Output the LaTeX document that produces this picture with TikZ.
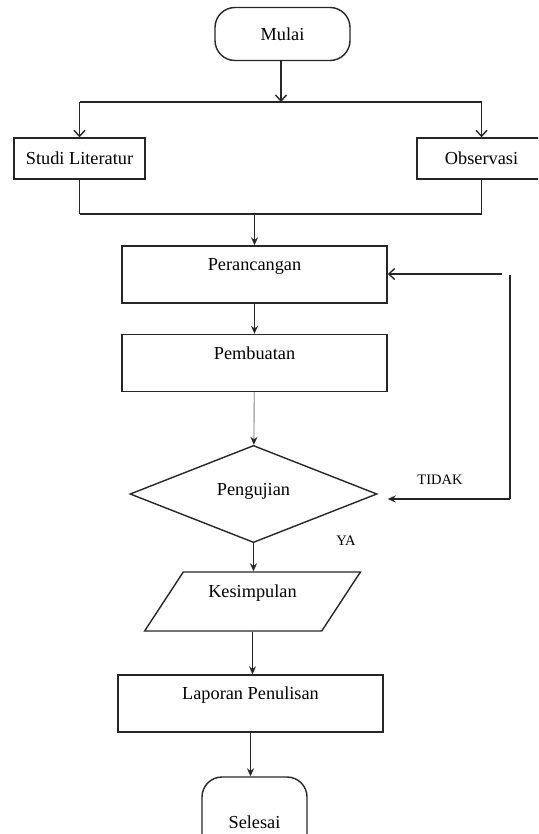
\documentclass[tikz,border=0pt]{standalone}
\usepackage{fontspec}
\setmainfont{Liberation Serif}
\usetikzlibrary{shapes.geometric,arrows.meta}

\tikzset{
	garis/.style={line width=1.4pt,draw=black!85},
	kotak/.style={garis,rectangle,inner sep=0pt,font=\fontsize{18.3}{21}\selectfont},
	proses/.style={kotak,minimum width=265pt,minimum height=57pt,text height=13pt,text depth=21pt},
	terminal/.style={kotak,rounded corners=20pt},
	keputusan/.style={kotak,diamond,minimum width=247pt,minimum height=92pt,text height=13pt,text depth=11pt},
	data/.style={kotak,trapezium,trapezium left angle=54,trapezium right angle=126,trapezium stretches=true,minimum width=216pt,minimum height=59pt,text height=13pt,text depth=21pt},
	keterangan/.style={inner sep=0pt,font=\fontsize{14.5}{16}\selectfont},
	panah/.style={garis,-{Stealth[length=8pt,width=7pt]}},
	panahabu/.style={garis,draw=black!30,-{Stealth[length=8pt,width=7pt,color=black!85]}},
	panahbuka/.style={garis,-{Straight Barb[length=6pt,width=11pt]}}
}

\begin{document}
\begin{tikzpicture}[x=1pt,y=-1pt]
	\clip (0,0) rectangle (538,834);
	
	\node[terminal,minimum width=135pt,minimum height=53pt] (mulai) at (282.5,34) {Mulai};
	\node[kotak,minimum width=131pt,minimum height=41pt] (studi) at (79.5,158.5) {Studi Literatur};
	\node[kotak,minimum width=129pt,minimum height=41pt] (obs) at (481.5,158.5) {Observasi};
	\node[proses] (rancang) at (254.5,274.5) {Perancangan};
	\node[proses] (buat) at (254.5,363) {Pembuatan};
	\node[keputusan] (uji) at (253.5,494) {Pengujian};
	\node[data] (simpul) at (252.5,601.5) {Kesimpulan};
	\node[proses] (lapor) at (250.5,703.5) {Laporan Penulisan};
	\node[terminal,minimum width=105pt,minimum height=90pt] (selesai) at (254.5,822) {Selesai};
	\node[keterangan] (tidak) at (440,480) {TIDAK};
	\node[keterangan] (ya) at (346,541) {YA};
	
	\coordinate (cabang) at (281,102);
	\coordinate (gabung) at (254.5,214);
	\coordinate (balikbawah) at (510,499);
	\coordinate (balikatas) at (510,275);
	\coordinate (balikujung) at (502,274);
	
	\draw[panahbuka] (mulai.south -| cabang) -- (cabang);
	\draw[garis] (cabang -| studi) -- (cabang -| obs);
	\foreach \n in {studi,obs}
		\draw[panahbuka] (cabang -| \n) -- (\n.north);
	\foreach \n in {studi,obs}
		\draw[garis] (\n.south) -- (gabung -| \n);
	\draw[garis,line width=2.2pt] (gabung -| studi) -- (gabung -| obs);
	\draw[panah] (gabung) -- (rancang.north);
	\draw[panah] (rancang) -- (buat);
	\draw[panahabu] (buat) -- (uji);
	\draw[panah] (uji) -- (uji.south |- simpul.north);
	\draw[panah] (simpul.south) -- (simpul.south |- lapor.north);
	\draw[panah] (lapor.south) -- (lapor.south |- selesai.north);
	\draw[garis] (balikbawah) -- (balikatas);
	\draw[panah,shorten >=10pt] (balikbawah) -- (balikbawah -| uji.east);
	\draw[panahbuka] (balikujung) -- (balikujung -| rancang.east);
\end{tikzpicture}
\end{document}
